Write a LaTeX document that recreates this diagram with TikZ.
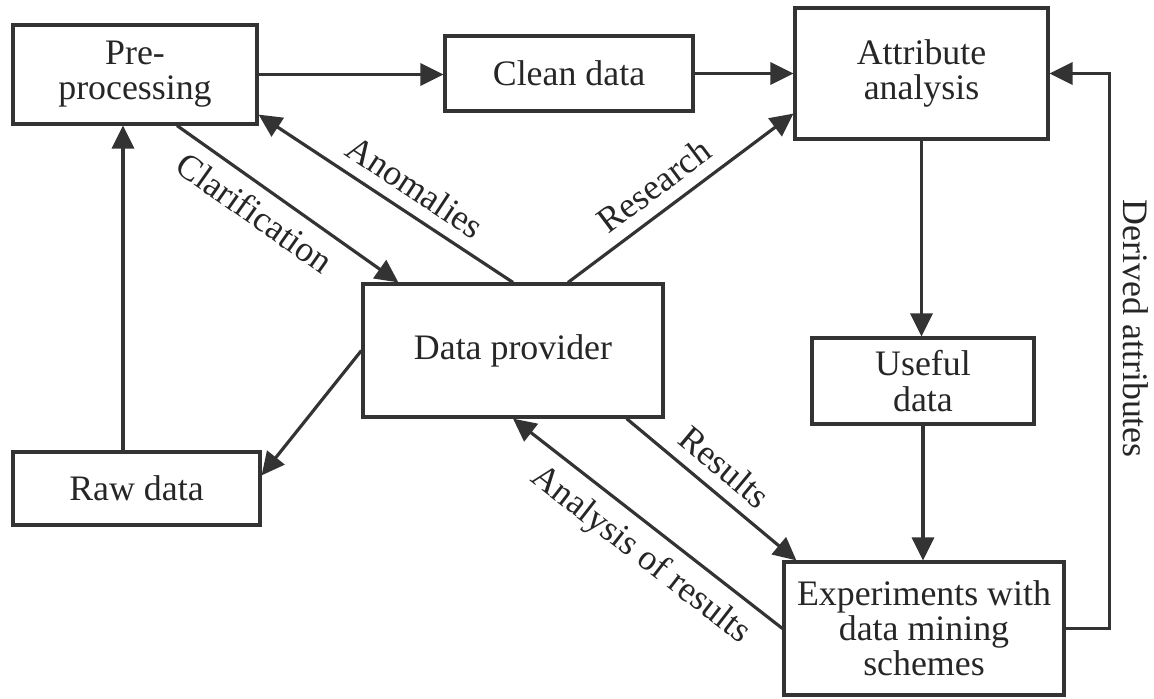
\documentclass[tikz,border=0pt]{standalone}
\usepackage{fontspec}
\setmainfont{Liberation Serif}
\usetikzlibrary{arrows.meta}

\begin{document}
\begin{tikzpicture}[
    box/.style={draw=black!80, line width=0.9pt, text=black!85, align=center, inner sep=0pt, font=\fontsize{10.2pt}{10pt}\selectfont},
    lbl/.style={text=black!85, font=\fontsize{10.2pt}{10pt}\selectfont},
    arr/.style={draw=black!80, line width=0.9pt, -{Triangle[length=2.3mm,width=2.2mm]}}
  ]
      \useasboundingbox (0,0) rectangle (11.54,-6.98);
      \node[box, minimum width=2.44cm, minimum height=0.99cm] (pre) at (1.35,-0.745) {Pre-\\processing};
      \node[box, minimum width=2.48cm, minimum height=0.75cm] (clean) at (5.69,-0.735) {Clean data};
      \node[box, minimum width=2.53cm, minimum height=1.31cm] (attr) at (9.215,-0.735) {Attribute\\analysis};
      \node[box, minimum width=3.00cm, minimum height=1.33cm] (dp) at (5.13,-3.505) {Data provider};
      \node[box, minimum width=2.22cm, minimum height=0.86cm] (useful) at (9.23,-3.81) {Useful\\data};
      \node[box, minimum width=2.47cm, minimum height=0.73cm] (raw) at (1.365,-4.885) {Raw data};
      \node[box, minimum width=2.80cm, minimum height=1.33cm] (exp) at (9.24,-6.285) {Experiments with\\data mining\\schemes};
      \draw[arr] (pre.east) -- (pre.east -| clean.west);
      \draw[arr] (clean.east) -- (clean.east -| attr.west);
      \draw[arr] ([xshift=-1.35mm]raw.north) -- ([xshift=-1.35mm]raw.north |- pre.south);
      \draw[arr] (dp.north) -- node[lbl, sloped, above, pos=0.44] {Anomalies} ([yshift=1.1mm]pre.south east);
      \draw[arr] ([xshift=4.2mm]pre.south) -- node[lbl, sloped, below, pos=0.42] {Clarification} ([xshift=3.7mm]dp.north west);
      \draw[arr] ([xshift=5.5mm]dp.north) -- node[lbl, sloped, above, pos=0.45] {Research} ([yshift=2.7mm]attr.south west);
      \draw[arr] (dp.west) -- ([yshift=-2.5mm]raw.north east);
      \draw[arr] ([xshift=-3.8mm]dp.south east) -- node[lbl, sloped, above, pos=0.48] {Results} ([xshift=1.4mm]exp.north west);
      \draw[arr] (exp.west) -- node[lbl, sloped, below, pos=0.46] {Analysis of results} (dp.south);
      \draw[arr] (attr.south) -- (attr.south |- useful.north);
      \draw[arr] (useful.south) -- (useful.south |- exp.north);
      \draw[arr] (exp.east) -- ++(0.44,0) |- node[lbl, rotate=-90, above, pos=0.27] {Derived attributes} (attr.east);
    \end{tikzpicture}
\end{document}
